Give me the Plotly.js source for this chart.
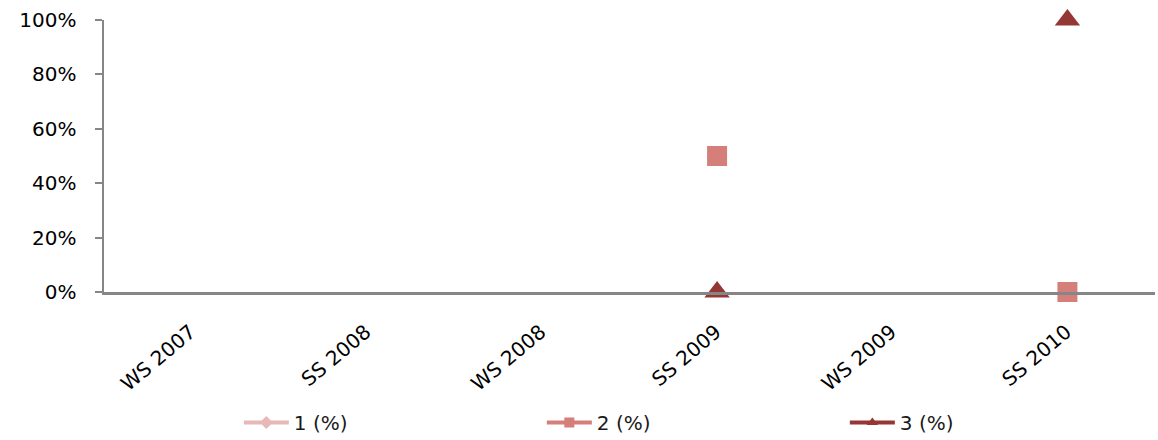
<!DOCTYPE html>
<html>
<head>
<meta charset="utf-8">
<script src="https://cdn.plot.ly/plotly-3.0.1.min.js"></script>
<style>html,body{margin:0;padding:0;background:#fff;}#chart{width:1158px;height:440px;}</style>
</head>
<body>
<div id="chart"></div>
<script>
const categories = ["WS 2007", "SS 2008", "WS 2008", "SS 2009", "WS 2009", "SS 2010"];
const series1 = [null, null, null, null, null, null];
const series2 = [null, null, null, 0.5, null, 0];
const series3 = [null, null, null, 0, null, 1];
const seriesNames = ["1 (%)", "2 (%)", "3 (%)"];
const yTickVals = [0, 0.2, 0.4, 0.6, 0.8, 1];
const yTickText = ["0%", "20%", "40%", "60%", "80%", "100%"];

const colors = ["#E6B9B8", "#D47F7A", "#953735"];
const symbols = ["diamond", "square", "triangle-up"];
const sizes = [16, 20, 22];
const allSeries = [series1, series2, series3];

const traces = [];
allSeries.forEach((s, i) => {
  traces.push({
    type: "scatter", mode: "lines+markers", x: categories, y: s,
    name: seriesNames[i], showlegend: false, connectgaps: false, cliponaxis: false,
    line: {color: colors[i], width: 4},
    marker: {symbol: symbols[i], size: sizes[i], color: colors[i]},
    hoverinfo: "skip"
  });
});
allSeries.forEach((s, i) => {
  traces.push({
    type: "scatter", mode: "lines+markers", x: [categories[0]], y: [null],
    name: seriesNames[i], showlegend: true,
    line: {color: colors[i], width: 4},
    marker: {symbol: symbols[i], size: 10, color: colors[i]}
  });
});

const layout = {
  width: 1158, height: 440,
  margin: {l: 104, r: 3, t: 20, b: 148, pad: 0, autoexpand: false},
  paper_bgcolor: "#ffffff", plot_bgcolor: "#ffffff",
  font: {family: "DejaVu Sans", color: "#000000"},
  showlegend: true,
  legend: {
    orientation: "h", x: 0.1283, xanchor: "left", y: -0.48, yanchor: "middle",
    entrywidth: 243, entrywidthmode: "pixels", itemwidth: 45,
    font: {family: "DejaVu Sans", size: 20, color: "#1a1a1a"},
    traceorder: "normal"
  },
  xaxis: {
    type: "category", categoryorder: "array", categoryarray: categories,
    range: [-0.5, 5.5], showgrid: false, zeroline: false,
    showline: true, linecolor: "#868686", linewidth: 2.5,
    ticks: "", tickangle: -40, ticklabelstandoff: 18, ticklabelshift: -1,
    tickfont: {family: "DejaVu Sans", size: 20, color: "#000000"},
    fixedrange: true
  },
  yaxis: {
    range: [0, 1], showgrid: false, zeroline: false,
    showline: true, linecolor: "#868686", linewidth: 2.5,
    ticks: "outside", ticklen: 7, tickwidth: 2, tickcolor: "#868686",
    tickvals: yTickVals, ticktext: yTickText, ticklabelstandoff: 14,
    tickfont: {family: "DejaVu Sans", size: 20, color: "#000000"},
    fixedrange: true
  }
};

Plotly.newPlot("chart", traces, layout, {displayModeBar: false, staticPlot: true});
</script>
</body>
</html>
